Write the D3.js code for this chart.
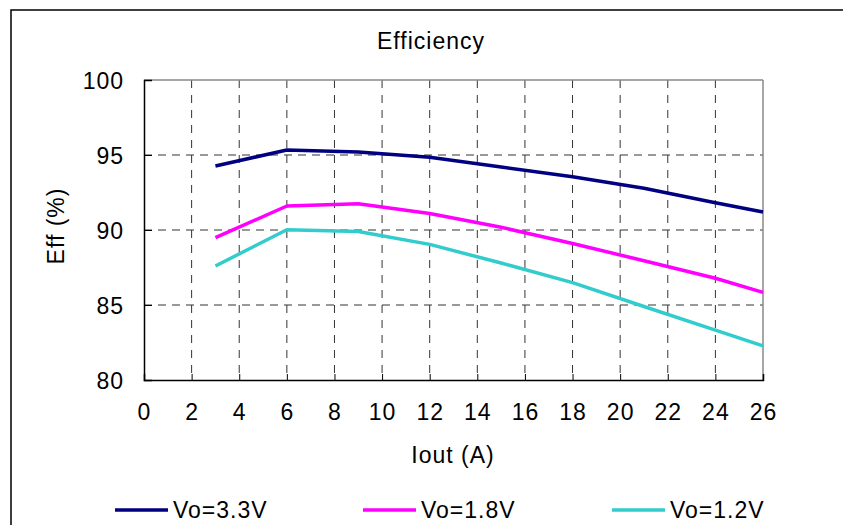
<!DOCTYPE html>
<html>
<head>
<meta charset="utf-8">
<script src="https://cdn.jsdelivr.net/npm/d3@7"></script>
<style>
  body { margin: 0; background: #fff; }
  text { font-family: "Liberation Sans", Arial, sans-serif; fill: #000; letter-spacing: 1px; }
</style>
</head>
<body>
<svg id="chart" width="843" height="525"></svg>
<script>
// values
const iout = [3, 6, 9, 12, 15, 18, 21, 24, 26]
const eff33 = [94.27, 95.33, 95.2, 94.85, 94.2, 93.55, 92.78, 91.82, 91.2]
const eff18 = [89.49, 91.6, 91.75, 91.1, 90.18, 89.1, 87.95, 86.78, 85.84]
const eff12 = [87.6, 90.02, 89.9, 89.04, 87.8, 86.49, 84.9, 83.33, 82.27]
const seriesNames = ['Vo=3.3V', 'Vo=1.8V', 'Vo=1.2V']
const seriesColors = ['#000080', '#ff00ff', '#33cccc']
const xTicks = d3.range(0, 27, 2)
const yTicks = [80, 85, 90, 95, 100]

const svg = d3.select('#chart')
const fontSize = '23px'

// outer frame (runs off the right and bottom edges)
svg.append('rect').attr('x', 11).attr('y', 10).attr('width', 900).attr('height', 600)
    .style('fill', 'none').style('stroke', '#000').style('stroke-width', 1.5)

const plotL = 144, plotR = 763, plotT = 80, plotB = 380

const x = d3.scaleLinear().domain([0, 26]).range([plotL, plotR])
const y = d3.scaleLinear().domain([80, 100]).range([plotB, plotT])

const g = svg.append('g')

// dashed grid
g.selectAll('.vgrid').data(xTicks.slice(1, -1)).enter().append('line')
    .attr('x1', d => x(d)).attr('x2', d => x(d)).attr('y1', plotT).attr('y2', plotB)
    .style('stroke', '#333').style('stroke-dasharray', '8,7').style('stroke-width', 1)
g.selectAll('.hgrid').data(yTicks.slice(1, -1)).enter().append('line')
    .attr('x1', plotL).attr('x2', plotR).attr('y1', d => y(d)).attr('y2', d => y(d))
    .style('stroke', '#333').style('stroke-dasharray', '8,6').style('stroke-width', 1)

// plot frame: grey top/right, black left/bottom
g.append('line').attr('x1', plotL).attr('x2', plotR).attr('y1', plotT).attr('y2', plotT).style('stroke', '#888').style('stroke-width', 1.5)
g.append('line').attr('x1', plotR).attr('x2', plotR).attr('y1', plotT).attr('y2', plotB).style('stroke', '#888').style('stroke-width', 1.5)

const xAxis = g.append('g').attr('transform', `translate(0,${plotB})`)
    .call(d3.axisBottom(x).tickValues(xTicks).tickSize(-6).tickPadding(24))
const yAxis = g.append('g').attr('transform', `translate(${plotL},0)`)
    .call(d3.axisLeft(y).tickValues(yTicks).tickSize(-8).tickPadding(20))
;[xAxis, yAxis].forEach(a => {
    a.select('.domain').style('stroke', '#000').style('stroke-width', 1.5)
    a.selectAll('.tick line').style('stroke', '#000')
    a.selectAll('text').style('font-family', '"Liberation Sans", Arial, sans-serif').style('font-size', fontSize).style('fill', '#000')
})
xAxis.selectAll('text').attr('dy', '0.71em')
yAxis.selectAll('text').attr('dy', '0.36em')

// series
const series = [eff33, eff18, eff12]
const line = d3.line().x((d, i) => x(iout[i])).y(d => y(d))
g.selectAll('.series').data(series).enter().append('path')
    .attr('d', line).style('fill', 'none')
    .style('stroke', (d, i) => seriesColors[i]).style('stroke-width', 3.5)
    .style('stroke-linejoin', 'round')

// titles
svg.append('text').attr('x', 431).attr('y', 49).attr('text-anchor', 'middle')
    .style('font-size', fontSize).text('Efficiency')
svg.append('text').attr('x', 453).attr('y', 463).attr('text-anchor', 'middle')
    .style('font-size', fontSize).text('Iout (A)')
svg.append('text').attr('transform', 'translate(64,226) rotate(-90)').attr('text-anchor', 'middle')
    .style('font-size', fontSize).text('Eff (%)')

// legend
const legendX = [115, 363, 612]
const leg = svg.selectAll('.legend').data(seriesNames).enter().append('g')
    .attr('transform', (d, i) => `translate(${legendX[i]},510)`)
leg.append('line').attr('x1', 0).attr('x2', 53).attr('y1', 0).attr('y2', 0)
    .style('stroke', (d, i) => seriesColors[i]).style('stroke-width', 3.5)
leg.append('text').attr('x', 58).attr('y', 8).style('font-size', fontSize).text(d => d)
</script>
</body>
</html>
